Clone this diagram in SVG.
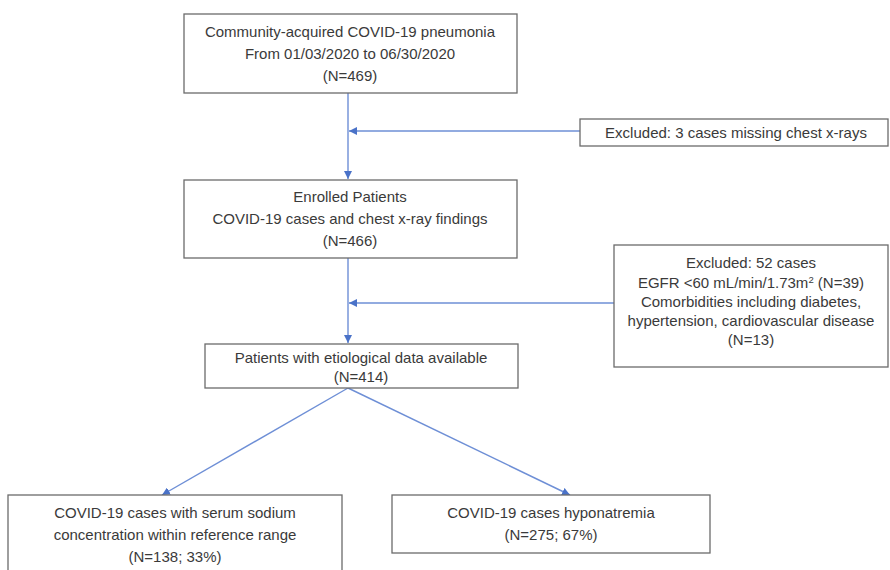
<svg xmlns="http://www.w3.org/2000/svg" width="890" height="570" viewBox="0 0 890 570">
<style>
.box{fill:#fff;stroke:#6b6b6b;stroke-width:1.3}
.t{font-family:"Liberation Sans",Arial,sans-serif;font-size:15px;fill:#3a3a3a;text-anchor:middle}
.c{stroke:#6e8fd6;stroke-width:1.4;fill:none}
</style>
<defs>
<marker id="ah" viewBox="0 0 10 10" refX="10" refY="5" markerWidth="8" markerHeight="8" markerUnits="userSpaceOnUse" orient="auto">
<path d="M0,0 L10,5 L0,10 z" fill="#4a72c8"/>
</marker>
</defs>
<rect width="890" height="570" fill="#fff"/>
<g id="connectors">
<line class="c" x1="348" y1="93" x2="348" y2="179" marker-end="url(#ah)"/>
<line class="c" x1="580" y1="131" x2="349" y2="131" marker-end="url(#ah)"/>
<line class="c" x1="348" y1="258" x2="348" y2="343" marker-end="url(#ah)"/>
<line class="c" x1="614" y1="303" x2="349" y2="303" marker-end="url(#ah)"/>
<line class="c" x1="348" y1="388" x2="162" y2="495" marker-end="url(#ah)"/>
<line class="c" x1="348" y1="388" x2="570" y2="495" marker-end="url(#ah)"/>
</g>
<g id="n1">
<rect class="box" x="184" y="14" width="333" height="79"/>
<text class="t" x="350" y="37">Community-acquired COVID-19 pneumonia</text>
<text class="t" x="350" y="59">From 01/03/2020 to 06/30/2020</text>
<text class="t" x="350" y="81">(N=469)</text>
</g>
<g id="ex1">
<rect class="box" x="580" y="119" width="308" height="27"/>
<text class="t" x="736" y="138">Excluded: 3 cases missing chest x-rays</text>
</g>
<g id="n2">
<rect class="box" x="184" y="180" width="333" height="78"/>
<text class="t" x="350" y="202">Enrolled Patients</text>
<text class="t" x="350" y="224">COVID-19 cases and chest x-ray findings</text>
<text class="t" x="350" y="246">(N=466)</text>
</g>
<g id="ex2">
<rect class="box" x="614" y="245" width="274" height="122"/>
<text class="t" x="751" y="268">Excluded: 52 cases</text>
<text class="t" x="751" y="288">EGFR &lt;60 mL/min/1.73m<tspan font-size="9.5" dy="-5">2</tspan><tspan dy="5"> (N=39)</tspan></text>
<text class="t" x="751" y="307">Comorbidities including diabetes,</text>
<text class="t" x="751" y="326">hypertension, cardiovascular disease</text>
<text class="t" x="751" y="345">(N=13)</text>
</g>
<g id="n3">
<rect class="box" x="205" y="344" width="313" height="44"/>
<text class="t" x="361" y="363">Patients with etiological data available</text>
<text class="t" x="361" y="382">(N=414)</text>
</g>
<g id="n4">
<rect class="box" x="8" y="495" width="334" height="80"/>
<text class="t" x="175" y="518">COVID-19 cases with serum sodium</text>
<text class="t" x="175" y="540">concentration within reference range</text>
<text class="t" x="175" y="562">(N=138; 33%)</text>
</g>
<g id="n5">
<rect class="box" x="392" y="495" width="318" height="58"/>
<text class="t" x="551" y="518">COVID-19 cases hyponatremia</text>
<text class="t" x="551" y="540">(N=275; 67%)</text>
</g>
</svg>
